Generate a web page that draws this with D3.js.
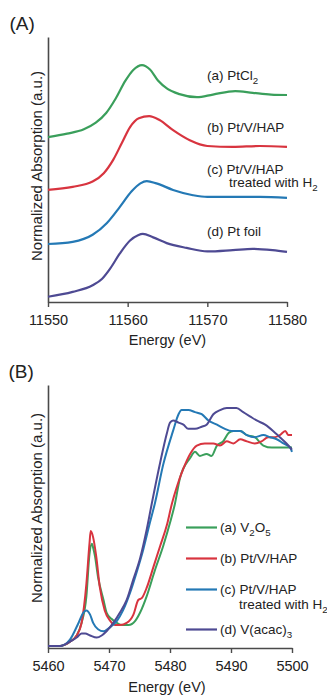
<!DOCTYPE html>
<html>
<head>
<meta charset="utf-8">
<script src="https://cdn.jsdelivr.net/npm/d3@7/dist/d3.min.js"></script>
<style>
  html, body { margin: 0; padding: 0; background: #fff; }
  svg { display: block; }
  text { font-family: "Liberation Sans", Arial, sans-serif; fill: #222; }
</style>
</head>
<body>
<svg id="fig" width="327" height="695"></svg>
<script>
// ---------- Panel A: Pt L3-edge XANES ----------
const ptTicks = [11550, 11560, 11570, 11580];
// vertical stacking offset of each normalized spectrum
const ptOffsets = [3.7, 2.5, 1.3, 0.1];

// energy (eV), normalized absorption
const ptCl2 = [
  [11550.0, 0.07], [11552.4, 0.15], [11554.5, 0.25], [11556.0, 0.40], [11557.3, 0.62],
  [11558.5, 0.95], [11559.7, 1.35], [11560.7, 1.60], [11561.8, 1.71], [11562.8, 1.61],
  [11563.8, 1.36], [11565.0, 1.17], [11566.5, 1.05], [11568.7, 0.98], [11570.7, 1.04],
  [11573.5, 1.12], [11575.7, 1.08], [11578.0, 1.04], [11580.0, 1.03]
];
const ptVHap = [
  [11550.0, 0.07], [11553.1, 0.14], [11555.6, 0.26], [11557.0, 0.45], [11558.2, 0.76],
  [11559.3, 1.15], [11560.3, 1.50], [11561.4, 1.70], [11562.7, 1.75], [11564.0, 1.66],
  [11565.7, 1.43], [11567.8, 1.20], [11570.0, 1.07], [11573.2, 1.05], [11576.6, 1.07],
  [11580.0, 1.05]
];
const ptVHapH2 = [
  [11550.0, 0.04], [11553.1, 0.09], [11555.6, 0.25], [11557.4, 0.52], [11559.0, 0.88],
  [11560.5, 1.24], [11561.6, 1.42], [11562.4, 1.47], [11563.6, 1.42], [11565.7, 1.27],
  [11568.2, 1.15], [11570.0, 1.11], [11573.2, 1.11], [11576.6, 1.11], [11580.0, 1.09]
];
const ptFoil = [
  [11550.0, 0.04], [11553.1, 0.15], [11555.6, 0.30], [11556.8, 0.45], [11557.8, 0.68],
  [11559.0, 1.02], [11560.3, 1.32], [11561.3, 1.44], [11561.9, 1.47], [11563.2, 1.39],
  [11564.9, 1.26], [11567.4, 1.15], [11570.0, 1.07], [11573.2, 1.10], [11575.7, 1.13],
  [11578.2, 1.10], [11580.0, 1.06]
];
const ptSeries = [ptCl2, ptVHap, ptVHapH2, ptFoil];

// ---------- Panel B: V K-edge XANES ----------
const vTicks = [5460, 5470, 5480, 5490, 5500];

const v2o5 = [
  [5460.0, 0.00], [5462.0, 0.00], [5463.6, 0.02], [5464.7, 0.05], [5465.5, 0.11],
  [5466.3, 0.24], [5466.8, 0.44], [5467.2, 0.49], [5467.4, 0.47], [5467.7, 0.43],
  [5468.2, 0.33], [5469.1, 0.22], [5469.6, 0.16], [5470.4, 0.13], [5471.3, 0.11],
  [5472.1, 0.10], [5473.2, 0.10], [5474.3, 0.12], [5475.1, 0.16], [5476.2, 0.24],
  [5477.5, 0.36], [5478.9, 0.48], [5480.0, 0.59], [5480.8, 0.68], [5481.6, 0.80],
  [5483.3, 0.90], [5484.1, 0.93], [5484.9, 0.91], [5486.0, 0.92], [5486.8, 0.91],
  [5487.7, 0.96], [5488.7, 0.98], [5489.6, 1.02], [5490.4, 1.03], [5491.5, 1.03],
  [5492.6, 1.01], [5493.9, 1.00], [5495.3, 0.96], [5496.7, 0.95], [5498.0, 0.95],
  [5499.4, 0.95], [5500.0, 0.95]
];
const vPtVHap = [
  [5460.0, 0.00], [5462.0, 0.00], [5463.6, 0.02], [5464.7, 0.05], [5465.5, 0.11],
  [5466.3, 0.30], [5466.8, 0.49], [5467.0, 0.55], [5467.4, 0.52], [5467.9, 0.43],
  [5468.5, 0.28], [5469.3, 0.17], [5470.2, 0.12], [5471.0, 0.10], [5471.8, 0.10],
  [5472.9, 0.11], [5474.0, 0.15], [5474.8, 0.22], [5475.4, 0.23], [5476.2, 0.28],
  [5477.3, 0.38], [5478.4, 0.48], [5479.5, 0.58], [5480.3, 0.68], [5481.1, 0.76],
  [5482.2, 0.85], [5483.3, 0.92], [5484.4, 0.96], [5485.7, 0.97], [5487.1, 0.97],
  [5488.2, 0.96], [5489.3, 0.98], [5490.4, 0.97], [5491.5, 0.99], [5492.6, 0.98],
  [5493.9, 0.97], [5495.0, 0.98], [5496.1, 1.00], [5497.2, 1.00], [5498.0, 1.01],
  [5498.9, 1.03], [5499.4, 1.01], [5500.0, 1.01]
];
const vPtVHapH2 = [
  [5460.0, 0.00], [5462.0, 0.00], [5463.6, 0.03], [5465.0, 0.11], [5465.8, 0.16],
  [5466.3, 0.17], [5466.9, 0.15], [5467.4, 0.11], [5468.2, 0.08], [5469.1, 0.07],
  [5470.2, 0.09], [5471.3, 0.12], [5472.3, 0.17], [5473.4, 0.25], [5474.5, 0.35],
  [5475.6, 0.46], [5476.7, 0.59], [5477.5, 0.68], [5478.9, 0.87], [5480.5, 1.03],
  [5481.4, 1.11], [5481.9, 1.13], [5483.0, 1.13], [5484.1, 1.12], [5485.2, 1.11],
  [5486.3, 1.08], [5487.7, 1.06], [5489.0, 1.04], [5490.1, 1.03], [5491.5, 1.03],
  [5492.6, 1.01], [5493.9, 1.00], [5495.3, 1.01], [5496.4, 1.00], [5497.5, 0.99],
  [5498.6, 0.97], [5499.7, 0.95], [5500.0, 0.93]
];
const vAcac3 = [
  [5460.0, 0.00], [5462.0, 0.00], [5463.6, 0.02], [5464.7, 0.04], [5465.5, 0.06],
  [5466.1, 0.06], [5466.9, 0.05], [5468.0, 0.04], [5468.8, 0.05], [5469.6, 0.07],
  [5470.7, 0.11], [5471.8, 0.16], [5472.9, 0.22], [5474.0, 0.32], [5475.1, 0.42],
  [5476.2, 0.56], [5477.0, 0.68], [5478.4, 0.88], [5479.5, 1.02], [5480.0, 1.07],
  [5480.5, 1.08], [5481.4, 1.07], [5482.2, 1.06], [5483.0, 1.04], [5484.1, 1.04],
  [5485.2, 1.05], [5486.0, 1.06], [5487.1, 1.11], [5488.2, 1.13], [5489.3, 1.14],
  [5490.1, 1.14], [5490.9, 1.14], [5492.0, 1.12], [5493.1, 1.10], [5494.2, 1.08],
  [5495.6, 1.06], [5496.9, 1.03], [5498.0, 1.00], [5499.1, 0.97], [5500.0, 0.94]
];
const vSeries = [v2o5, vPtVHap, vPtVHapH2, vAcac3];

const colors = ["#3a9f5b", "#d8343f", "#2479b5", "#4e4a93"];
const axisColor = "#4a4a4a";

const svg = d3.select("#fig");

// labels with subscripts: parts are [text, isSub]
function richText(sel, parts, x, y, size) {
  const t = sel.append("text").attr("x", x).attr("y", y).attr("font-size", size);
  const shift = size * 0.28;
  let prevSub = false;
  parts.forEach(([s, sub]) => {
    const dy = (sub ? shift : 0) - (prevSub ? shift : 0);
    t.append("tspan")
      .attr("font-size", sub ? size * 0.72 : size)
      .attr("dy", dy)
      .text(s);
    prevSub = sub;
  });
  return t;
}

function drawAxes(g, x, y, ticks, yMid, xLabelY, xLabelX) {
  const xAxis = g.append("g")
    .attr("transform", `translate(0,${y.range()[0]})`)
    .call(d3.axisBottom(x).tickValues(ticks).tickFormat(d3.format("d"))
      .tickSize(5).tickSizeOuter(0).tickPadding(8));
  const yAxis = g.append("g")
    .attr("transform", `translate(${x.range()[0]},0)`)
    .call(d3.axisLeft(y).tickValues([]).tickSizeOuter(0));
  [xAxis, yAxis].forEach(a => {
    a.select(".domain").attr("stroke", axisColor).attr("stroke-width", 1.6);
    a.selectAll(".tick line").attr("stroke", axisColor).attr("stroke-width", 1.4);
    a.selectAll(".tick text")
      .attr("font-family", '"Liberation Sans", Arial, sans-serif')
      .attr("font-size", 14.5).attr("fill", "#222");
  });
  g.append("text").attr("x", xLabelX).attr("y", xLabelY)
    .attr("text-anchor", "middle").attr("font-size", 14.5).text("Energy (eV)");
  g.append("text")
    .attr("transform", `translate(42,${yMid}) rotate(-90)`)
    .attr("text-anchor", "middle").attr("font-size", 15)
    .text("Normalized Absorption (a.u.)");
}

// ----- Panel A -----
const gA = svg.append("g");
const xA = d3.scaleLinear().domain([11550, 11580]).range([48, 287]);
const yA = d3.scaleLinear().domain([0.02, 6.05]).range([302, 37]);
drawAxes(gA, xA, yA, ptTicks, 166, 345, 167.5);

ptSeries.forEach((s, i) => {
  const line = d3.line()
    .x(d => xA(d[0]))
    .y(d => yA(d[1] + ptOffsets[i]))
    .curve(d3.curveMonotoneX);
  gA.append("path")
    .attr("d", line(s))
    .attr("fill", "none").attr("stroke", colors[i])
    .attr("stroke-width", 2.2).attr("stroke-linejoin", "round");
});

gA.append("text").attr("x", 9.5).attr("y", 30).attr("font-size", 19).text("(A)");
richText(gA, [["(a) PtCl", false], ["2", true]], 207, 80, 13.5);
richText(gA, [["(b) Pt/V/HAP", false]], 207, 132, 13.5);
richText(gA, [["(c) Pt/V/HAP", false]], 207, 174, 13.5);
richText(gA, [["treated with H", false], ["2", true]], 229, 187, 13.5);
richText(gA, [["(d) Pt foil", false]], 207, 236, 13.5);

// ----- Panel B -----
const gB = svg.append("g");
const xB = d3.scaleLinear().domain([5460, 5500]).range([48, 292]);
const yB = d3.scaleLinear().domain([-0.01, 1.25]).range([648, 385]);
drawAxes(gB, xB, yB, vTicks, 508, 692, 167);

const lineB = d3.line().x(d => xB(d[0])).y(d => yB(d[1]))
  .curve(d3.curveMonotoneX);
vSeries.forEach((s, i) => {
  gB.append("path")
    .attr("d", lineB(s))
    .attr("fill", "none").attr("stroke", colors[i])
    .attr("stroke-width", 2).attr("stroke-linejoin", "round");
});

gB.append("text").attr("x", 8.5).attr("y", 378).attr("font-size", 19).text("(B)");

// legend
const legendLabels = [
  [[["(a) V", false], ["2", true], ["O", false], ["5", true]]],
  [[["(b) Pt/V/HAP", false]]],
  [[["(c) Pt/V/HAP", false]], [["treated with H", false], ["2", true]]],
  [[["(d) V(acac)", false], ["3", true]]]
];
const legendY = [527.5, 558.5, 589.5, 629.5];
legendLabels.forEach((rows, i) => {
  gB.append("line")
    .attr("x1", 186).attr("x2", 217)
    .attr("y1", legendY[i]).attr("y2", legendY[i])
    .attr("stroke", colors[i]).attr("stroke-width", 2.2);
  rows.forEach((parts, r) => {
    richText(gB, parts, r === 0 ? 220 : 239, legendY[i] + 4.7 + r * 15, 13.5);
  });
});
</script>
</body>
</html>
